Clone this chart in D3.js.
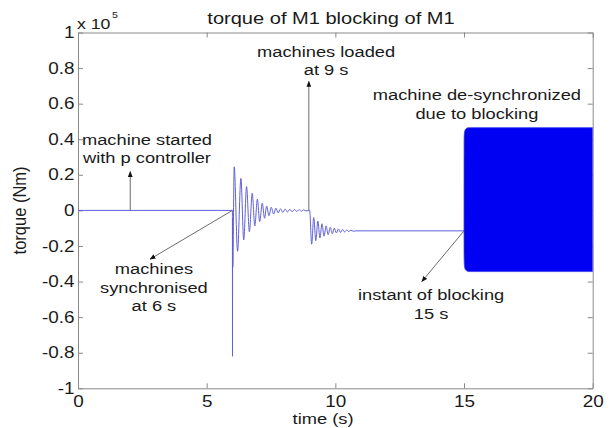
<!DOCTYPE html>
<html>
<head>
<meta charset="utf-8">
<script src="https://cdn.jsdelivr.net/npm/d3@7"></script>
<style>
  body { margin: 0; background: #fff; }
  text { font-family: "Liberation Sans", Arial, sans-serif; fill: #1a1a1a; }
  .axis path, .axis line { stroke: #8a8a8a; }
</style>
</head>
<body>
<svg id="chart" width="610" height="428"></svg>
<script>
'use strict'

// axis ticks
const xTicks = [0, 5, 10, 15, 20]
const xTickLabels = ['0', '5', '10', '15', '20']
const yTicks = [-1, -0.8, -0.6, -0.4, -0.2, 0, 0.2, 0.4, 0.6, 0.8, 1]
const yTickLabels = ['-1', '-0.8', '-0.6', '-0.4', '-0.2', '0', '0.2', '0.4', '0.6', '0.8', '1']

// torque trace (x 1e5 Nm), read at the extremes of the swings
const timeS = [0, 6.0, 6.003, 6.008, 6.013, 6.07, 6.2, 6.33, 6.44, 6.55, 6.66, 6.77, 6.87, 6.97, 7.06,
    7.16, 7.25, 7.33, 7.42, 7.51, 7.6, 7.69, 7.78, 7.87, 7.96, 8.05, 8.14, 8.23, 8.32, 8.41, 8.5,
    8.59, 8.68, 8.77, 8.86, 9.0, 9.08, 9.16, 9.24, 9.32, 9.4, 9.48, 9.56, 9.64, 9.72, 9.8, 9.88,
    9.96, 10.04, 10.12, 10.2, 10.28, 10.36, 10.44, 10.52, 10.6, 10.7, 10.8, 15.0]
const torque = [0, 0, -0.82, -0.05, -0.32, 0.245, -0.23, 0.18, -0.166, 0.134, -0.12, 0.097, -0.087, 0.063, -0.063,
    0.04, -0.044, 0.025, -0.03, 0.018, -0.02, 0.012, -0.014, 0.009, -0.011, 0.007, -0.009, 0.006, -0.007, 0.005, -0.006,
    0.004, -0.005, 0.003, -0.003, 0, -0.19, -0.04, -0.17, -0.06, -0.155, -0.075, -0.145, -0.087, -0.137, -0.095, -0.131,
    -0.1, -0.127, -0.104, -0.124, -0.107, -0.121, -0.11, -0.119, -0.112, -0.117, -0.115, -0.115]

// envelope of the fast oscillation after blocking
const bandTime = [15.0, 15.004, 15.02, 15.06, 15.12, 15.2, 20]
const bandHigh = [-0.115, 0.4, 0.44, 0.456, 0.463, 0.465, 0.465]
const bandLow = [-0.115, -0.27, -0.315, -0.334, -0.341, -0.344, -0.344]

// annotations: text lines, centre time / first baseline torque, arrow from -> to
const noteLines = [
    ['machine started', 'with p controller'],
    ['machines', 'synchronised', 'at 6 s'],
    ['machines loaded', 'at 9 s'],
    ['machine de-synchronized', 'due to blocking'],
    ['instant of blocking', '15 s']
]
const noteAt = [[2.68, 0.37], [2.95, -0.357], [9.64, 0.864], [15.5, 0.62], [13.72, -0.504]]
const arrowFrom = [[2.03, 0], [6.0, 0], [8.97, 0], [15.0, -0.115]]
const arrowTo = [[2.03, 0.218], [2.8, -0.274], [8.97, 0.725], [13.36, -0.4]]

const margins = { top: 32.5, right: 17.3, bottom: 39.7, left: 78 }
const width = 610 - margins.left - margins.right
const height = 428 - margins.top - margins.bottom
const stretch = 1.18

const x = d3.scaleLinear().domain([0, 20]).range([0, width])
const y = d3.scaleLinear().domain([-1, 1]).range([height, 0])

const svg = d3.select('#chart')
const chart = svg.append('g')
    .attr('transform', 'translate(' + margins.left + ',' + margins.top + ')')

function label(parent, px, py, str, size, anchor) {
    return parent.append('text')
        .attr('transform', 'translate(' + px + ',' + py + ') scale(' + stretch + ',1)')
        .attr('text-anchor', anchor)
        .style('font-size', size + 'px')
        .text(str)
}

chart.append('clipPath').attr('id', 'plotClip')
    .append('rect').attr('width', width).attr('height', height)

// axes box with inward ticks
const xAxis = chart.append('g').classed('axis', true)
    .attr('transform', 'translate(0,' + height + ')')
    .call(d3.axisBottom(x).tickValues(xTicks).tickFormat((d, i) => xTickLabels[i])
        .tickSizeInner(-5).tickSizeOuter(0).tickPadding(7))
xAxis.selectAll('text').style('font-size', '16px').attr('transform', 'scale(' + stretch + ',1)')

const yAxis = chart.append('g').classed('axis', true)
    .call(d3.axisLeft(y).tickValues(yTicks).tickFormat((d, i) => yTickLabels[i])
        .tickSizeInner(-5).tickSizeOuter(0).tickPadding(3))
yAxis.selectAll('text').style('font-size', '16px').attr('transform', 'scale(' + stretch + ',1)')

chart.append('g').classed('axis', true)
    .call(d3.axisTop(x).tickValues(xTicks).tickFormat('').tickSizeInner(-5).tickSizeOuter(0))
chart.append('g').classed('axis', true)
    .attr('transform', 'translate(' + width + ',0)')
    .call(d3.axisRight(y).tickValues(yTicks).tickFormat('').tickSizeInner(-5).tickSizeOuter(0))
chart.selectAll('.axis .domain').attr('fill', 'none')

// data
const plot = chart.append('g').attr('clip-path', 'url(#plotClip)')

const trace = d3.line()
    .x((d, i) => x(timeS[i]))
    .y((d) => y(d))
    .curve(d3.curveMonotoneX)
plot.append('path')
    .attr('d', trace(torque))
    .attr('fill', 'none')
    .attr('stroke', '#6060d8')
    .attr('stroke-width', 1)

const band = d3.area()
    .x((d, i) => x(bandTime[i]))
    .y0((d, i) => y(bandLow[i]))
    .y1((d) => y(d))
    .curve(d3.curveMonotoneX)
plot.append('path')
    .attr('d', band(bandHigh))
    .attr('fill', '#0000f2')
    .attr('stroke', '#3a3ae8')
    .attr('stroke-width', 0.8)

// annotation arrows
svg.append('defs').append('marker')
    .attr('id', 'head')
    .attr('viewBox', '0 0 10 10')
    .attr('refX', 9).attr('refY', 5)
    .attr('markerWidth', 6).attr('markerHeight', 6)
    .attr('markerUnits', 'userSpaceOnUse')
    .attr('orient', 'auto')
    .append('path').attr('d', 'M0,1L10,5L0,9Z').attr('fill', '#111')

chart.selectAll('.arrow')
    .data(arrowFrom)
    .enter().append('line')
    .classed('arrow', true)
    .attr('x1', (d) => x(d[0]))
    .attr('y1', (d) => y(d[1]))
    .attr('x2', (d, i) => x(arrowTo[i][0]))
    .attr('y2', (d, i) => y(arrowTo[i][1]))
    .attr('stroke', '#6a6a6a')
    .attr('stroke-width', 1)
    .attr('marker-end', 'url(#head)')

noteLines.forEach((lines, n) => {
    lines.forEach((str, k) => {
        label(chart, x(noteAt[n][0]), y(noteAt[n][1]) + k * 18.7, str, 15.5, 'middle')
    })
})

// titles
label(svg, 331, 24, 'torque of M1 blocking of M1', 17, 'middle')
label(svg, 323, 424, 'time (s)', 15.5, 'middle')
label(svg, 77, 29, 'x 10', 15, 'start')
label(svg, 112, 18, '5', 9, 'start')
svg.append('text')
    .attr('transform', 'translate(26,' + (margins.top + height / 2) + ') rotate(-90) scale(1,1.15)')
    .attr('text-anchor', 'middle')
    .style('font-size', '16.5px')
    .text('torque (Nm)')
</script>
</body>
</html>
